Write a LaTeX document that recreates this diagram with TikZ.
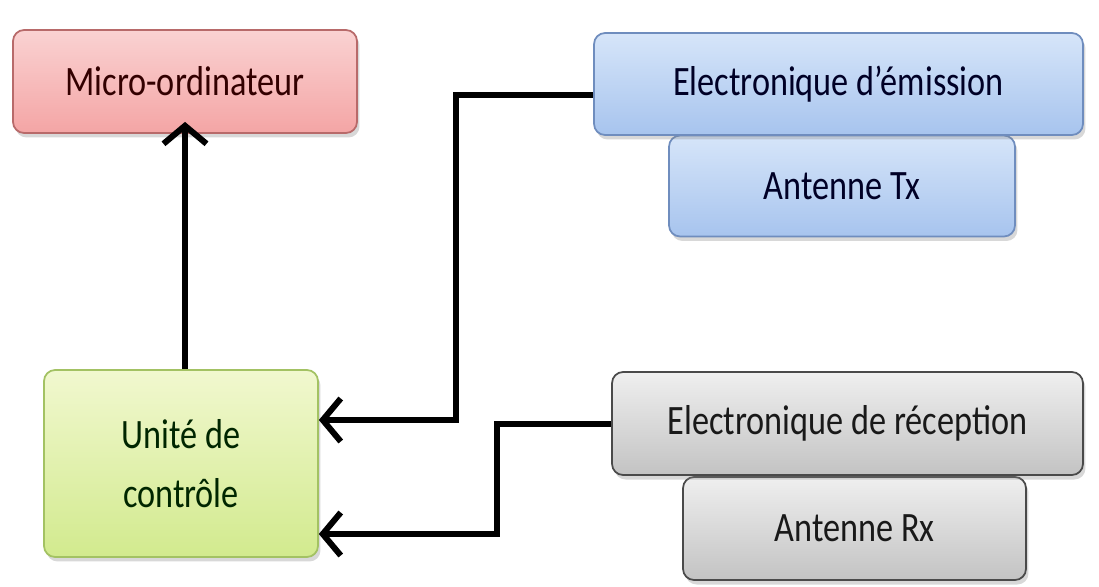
\documentclass[tikz,border=0pt]{standalone}
\usepackage{fontspec}
\setmainfont{Carlito}
\usetikzlibrary{arrows.meta,shadows,calc,shadings}
\definecolor{redtop}{HTML}{FAD2D2}
\definecolor{redbot}{HTML}{F4A5A5}
\definecolor{redline}{HTML}{B86A6A}
\definecolor{bluetop}{HTML}{D6E5F9}
\definecolor{bluebot}{HTML}{A7C4EE}
\definecolor{blueline}{HTML}{6F8DBE}
\definecolor{greentop}{HTML}{F1F8CF}
\definecolor{greenbot}{HTML}{D2EA8E}
\definecolor{greenline}{HTML}{A3C263}
\definecolor{graytop}{HTML}{EFEFEF}
\definecolor{graybot}{HTML}{C3C3C3}
\definecolor{grayline}{HTML}{4A4A4A}
\newcommand{\tallt}[1]{\scalebox{1}[1.22]{#1}}
\begin{document}
\begin{tikzpicture}[x=0.02cm,y=-0.02cm,
  box/.style={draw,rectangle,rounded corners=0.22cm,line width=0.035cm,
    font=\fontsize{19.5}{34}\selectfont,align=center,inner sep=0pt,
    drop shadow={shadow xshift=0.05cm,shadow yshift=-0.09cm,opacity=0.3}},
  redbox/.style={box,top color=redtop,bottom color=redbot,draw=redline,text=black!80!red},
  bluebox/.style={box,top color=bluetop,bottom color=bluebot,draw=blueline,text=black!85!blue},
  greenbox/.style={box,top color=greentop,bottom color=greenbot,draw=greenline,text=black!70!green!50!black},
  graybox/.style={box,top color=graytop,bottom color=graybot,draw=grayline,text=black!90},
  conn/.style={line width=0.12cm,line join=miter,-{Straight Barb[length=0.36cm,width=0.86cm,line width=0.12cm]}}]
\useasboundingbox[fill=white] (0,0) rectangle (1099,586);

\node[redbox,minimum width=6.88cm,minimum height=2.06cm] (micro) at (185,81.5) {\tallt{Micro-ordinateur}};

\node[bluebox,minimum width=6.92cm,minimum height=2.02cm] (antx) at (842,186) {\tallt{Antenne Tx}};
\node[bluebox,minimum width=9.78cm,minimum height=2.04cm] (emis) at (838.5,84) {\tallt{Electronique d’émission}};

\node[greenbox,minimum width=5.48cm,minimum height=3.74cm] (unite) at (181,463.5) {\tallt{Unité de}\\\tallt{contrôle}};

\node[graybox,minimum width=6.86cm,minimum height=2.06cm] (anrx) at (854.5,528.5) {\tallt{Antenne Rx}};
\node[graybox,minimum width=9.42cm,minimum height=2.06cm] (recep) at (847.5,423.5) {\tallt{Electronique de réception}};

\coordinate (e1) at ($(emis.west)+(0,11)$);
\coordinate (u1) at ($(unite.east)+(0,-43.5)$);
\coordinate (u2) at ($(unite.east)+(0,70.5)$);
\coordinate (mtop) at ($(micro.south)+(0,-12)$);

\draw[conn] (unite.north -| mtop) -- (mtop);
\draw[conn] (e1) -| (456,0 |- u1) -- (u1);
\draw[conn] (recep.west) -| (497,0 |- u2) -- (u2);
\end{tikzpicture}
\end{document}
